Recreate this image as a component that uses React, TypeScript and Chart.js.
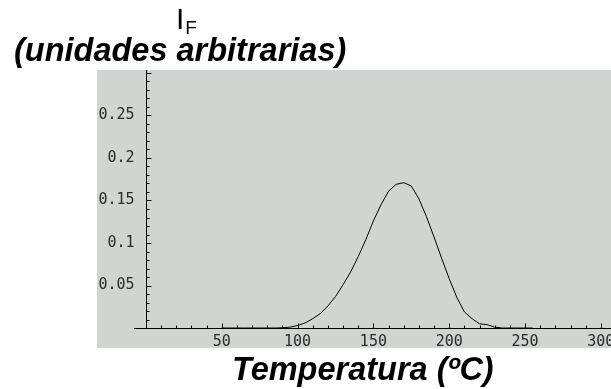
import React, { useEffect, useRef } from "react";
import { Chart, registerables } from "chart.js";

Chart.register(...registerables);

// Temperatures (ºC) and fluorescence intensity (arbitrary units)
const temperatures = [50, 55, 60, 65, 70, 75, 80, 85, 90, 95, 100, 105, 110, 115, 120, 125, 130, 135, 140, 145, 150, 155, 160, 165, 170, 175, 180, 185, 190, 195, 200, 205, 210, 215, 220, 225, 230, 235, 240, 245, 250, 255];
const intensity = [0, 0, 0, 0, 0, 0, 0, 0, 0.0003, 0.001, 0.003, 0.006, 0.011, 0.017, 0.026, 0.037, 0.051, 0.066, 0.084, 0.104, 0.126, 0.145, 0.161, 0.169, 0.171, 0.167, 0.152, 0.131, 0.107, 0.082, 0.058, 0.036, 0.019, 0.011, 0.005, 0.004, 0.001, 0, 0, 0, 0, 0];

const xTickLabels = [50, 100, 150, 200, 250, 300];
const yTickLabels = [0.05, 0.1, 0.15, 0.2, 0.25];

const yTitleMain = "I";
const yTitleSub = "F";
const yTitleUnits = "(unidades arbitrarias)";
const xTitle = "Temperatura (ºC)";

const X_MIN = -32.3;
const X_MAX = 306.7;
const Y_MIN = -0.0235;
const Y_MAX = 0.3035;

const mmaAxes = {
  id: "mmaAxes",
  beforeDraw(chart: any) {
    const { ctx, chartArea } = chart;
    ctx.save();
    ctx.fillStyle = "#d1d5d1";
    ctx.fillRect(chartArea.left, chartArea.top, chartArea.right - chartArea.left, chartArea.bottom - chartArea.top);
    ctx.restore();
  },
  afterDraw(chart: any) {
    const { ctx, chartArea } = chart;
    const xs = chart.scales.x;
    const ys = chart.scales.y;
    const x0 = Math.round(xs.getPixelForValue(0)) + 0.5;
    const y0 = Math.round(ys.getPixelForValue(0)) + 0.5;
    ctx.save();
    ctx.strokeStyle = "#000";
    ctx.lineWidth = 1;
    ctx.beginPath();
    ctx.moveTo(Math.round(xs.getPixelForValue(-8)), y0);
    ctx.lineTo(chartArea.right, y0);
    ctx.moveTo(x0, y0);
    ctx.lineTo(x0, chartArea.top);
    // x ticks (inward, upward)
    for (let v = 10; v <= X_MAX; v += 10) {
      const px = Math.round(xs.getPixelForValue(v)) + 0.5;
      const len = v % 50 === 0 ? 5 : 3;
      ctx.moveTo(px, y0);
      ctx.lineTo(px, y0 - len);
    }
    // y ticks (inward, rightward)
    for (let i = 1; i * 0.01 <= Y_MAX; i++) {
      const py = Math.round(ys.getPixelForValue(i * 0.01)) + 0.5;
      const len = i % 5 === 0 ? 5 : 3;
      ctx.moveTo(x0, py);
      ctx.lineTo(x0 + len, py);
    }
    ctx.stroke();

    ctx.fillStyle = "#2a2a2a";
    ctx.font = "15px 'DejaVu Sans Mono'";
    ctx.textAlign = "center";
    ctx.textBaseline = "middle";
    xTickLabels.forEach((v) => {
      ctx.fillText(String(v), xs.getPixelForValue(v), y0 + 14);
    });
    ctx.textAlign = "right";
    yTickLabels.forEach((v) => {
      ctx.fillText(String(v), x0 - 12, ys.getPixelForValue(v));
    });

    // titles
    ctx.fillStyle = "#000";
    ctx.textBaseline = "alphabetic";
    ctx.textAlign = "left";
    ctx.font = "30px 'Liberation Sans'";
    const iLeft = chartArea.left + 79;
    ctx.fillText(yTitleMain, iLeft, chartArea.top - 41);
    const iw = ctx.measureText(yTitleMain).width;
    ctx.font = "19px 'Liberation Sans'";
    ctx.fillText(yTitleSub, iLeft + iw + 1, chartArea.top - 36);
    ctx.font = "italic bold 32.5px 'Liberation Sans'";
    ctx.fillText(yTitleUnits, chartArea.left - 83, chartArea.top - 9);
    ctx.fillText(xTitle, chartArea.left + 135, chartArea.bottom + 32);
    ctx.restore();
  },
};

export default function App() {
  const ref = useRef<HTMLCanvasElement>(null);
  useEffect(() => {
    if (!ref.current) return;
    const chart = new Chart(ref.current, {
      type: "line",
      data: {
        datasets: [
          {
            data: temperatures.map((t, i) => ({ x: t, y: intensity[i] })),
            borderColor: "#000",
            borderWidth: 1,
            pointRadius: 0,
            tension: 0,
            fill: false,
          },
        ],
      },
      options: {
        animation: false,
        responsive: false,
        maintainAspectRatio: false,
        layout: { padding: { left: 97, right: 0, top: 70, bottom: 41 } },
        plugins: { legend: { display: false }, tooltip: { enabled: false }, title: { display: false } },
        scales: {
          x: { type: "linear", min: X_MIN, max: X_MAX, display: false },
          y: { type: "linear", min: Y_MIN, max: Y_MAX, display: false },
        },
      },
      plugins: [mmaAxes],
    });
    return () => chart.destroy();
  }, []);
  return (
    <div style={{ position: "fixed", left: 0, top: 0, width: 611, height: 389, background: "#fff" }}>
      <canvas ref={ref} width={611} height={389} style={{ display: "block", width: 611, height: 389 }} />
    </div>
  );
}
